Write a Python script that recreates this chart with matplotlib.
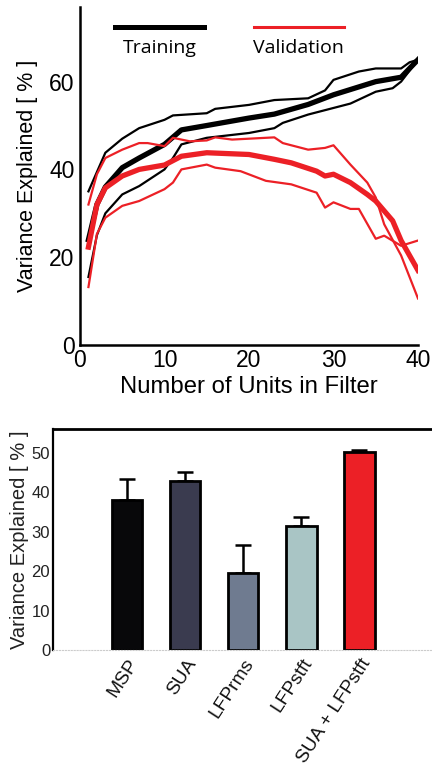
import matplotlib
matplotlib.use("Agg")
import matplotlib.pyplot as plt

# ---------------- data: top panel ----------------
train_mean_x = [1, 2, 3, 5, 7, 10, 12, 15, 20, 23, 27, 30, 35, 38, 40]
train_mean_y = [24, 32, 36, 40.4, 42.6, 45.7, 49, 50, 51.7, 52.6, 54.8, 57, 60, 61, 65]

train_hi_x = [1, 3, 5, 7, 10, 11, 15, 16, 20, 23, 27, 29, 30, 33, 35, 38, 39, 40]
train_hi_y = [35, 43.8, 47, 49.4, 51.3, 52.3, 52.8, 53.8, 54.7, 55.8, 56.2, 58, 60.4, 62.3, 63, 63, 64.4, 65]

train_lo_x = [1, 2, 3, 5, 7, 10, 11, 12, 15, 20, 23, 24, 27, 30, 32, 35, 37, 38, 40]
train_lo_y = [15.5, 25, 30, 34.3, 36.2, 40, 42.6, 45.7, 47.2, 48.3, 49.4, 50.6, 52.5, 54, 55, 57.7, 58.5, 60, 65]

val_mean_x = [1, 2, 3, 5, 7, 10, 12, 15, 20, 23, 25, 28, 29, 30, 32, 34, 35, 37, 38, 40]
val_mean_y = [22.3, 32, 35.8, 38.5, 40, 41, 43, 43.8, 43.4, 42.3, 41.5, 39.6, 38.5, 38.9, 37, 34.3, 32.8, 28.3, 23.8, 17]

val_hi_x = [1, 2, 3, 5, 7, 8, 10, 11, 13, 15, 16, 18, 23, 24, 27, 29, 30, 32, 34, 35, 36, 38, 39, 40]
val_hi_y = [32, 38.9, 42.6, 44.5, 46, 46, 45.3, 47.2, 46.4, 46.6, 47.3, 46.8, 47.3, 46, 44.5, 44.9, 45.5, 41.1, 37, 33.6, 27.5, 20.4, 15.5, 10.6]

val_lo_x = [1, 2, 3, 5, 7, 10, 11, 12, 15, 16, 19, 22, 25, 28, 29, 30, 32, 33, 35, 36, 38, 40]
val_lo_y = [13.2, 25.3, 29, 31.7, 32.8, 35.5, 37, 40, 41.1, 40.4, 39.6, 37.4, 36.6, 34.7, 31.3, 32.5, 31, 31, 24.2, 24.9, 22.6, 23.8]

top_xticks = [0, 10, 20, 30, 40]
top_yticks = [0, 20, 40, 60]
legend_labels = ["Training", "Validation"]

# ---------------- data: bottom panel ----------------
bar_labels = ["MSP", "SUA", "LFPrms", "LFPstft", "SUA + LFPstft"]
bar_values = [38, 42.9, 19.5, 31.4, 50.1]
bar_err = [5.3, 2.2, 7.0, 2.3, 0.7]
bar_colors = ["#08080a", "#3a3b4f", "#6f7b90", "#a9c5c5", "#ec2026"]
bot_yticks = [0, 10, 20, 30, 40, 50]

RED = "#ec2026"

fig = plt.figure(figsize=(4.32, 7.66), dpi=100)

# ---------------- top axes ----------------
ax = fig.add_axes([80 / 432, 1 - 345 / 766, 338 / 432, 338 / 766])
ax.plot(train_hi_x, train_hi_y, color="black", lw=1.6)
ax.plot(train_lo_x, train_lo_y, color="black", lw=1.6)
ax.plot(train_mean_x, train_mean_y, color="black", lw=3.8)
ax.plot(val_hi_x, val_hi_y, color=RED, lw=1.6)
ax.plot(val_lo_x, val_lo_y, color=RED, lw=1.6)
ax.plot(val_mean_x, val_mean_y, color=RED, lw=3.8)
ax.set_xlim(0, 40)
ax.set_ylim(0, 77)
ax.set_xticks(top_xticks)
ax.set_yticks(top_yticks)
ax.tick_params(axis="x", length=0, labelsize=16.5, pad=3)
ax.tick_params(axis="y", length=0, labelsize=16.5, pad=4)
for lab in ax.get_xticklabels() + ax.get_yticklabels():
    lab.set_family("Liberation Sans")
ax.spines["top"].set_visible(False)
ax.spines["right"].set_visible(False)
ax.spines["left"].set_linewidth(1.8)
ax.spines["bottom"].set_linewidth(1.8)
ax.set_xlabel("Number of Units in Filter", family="Liberation Sans", fontsize=17.2, labelpad=3)
ax.set_ylabel("Variance Explained [ % ]", family="Liberation Sans", fontsize=15.5, labelpad=8)

# hand-drawn style legend
ax.plot([0.104, 0.367], [0.94, 0.94], transform=ax.transAxes, color="black", lw=3.6, clip_on=False)
ax.plot([0.515, 0.78], [0.94, 0.94], transform=ax.transAxes, color=RED, lw=2.2, clip_on=False)
ax.text(0.236, 0.88, legend_labels[0], transform=ax.transAxes, ha="center", va="center",
        fontsize=14, family="Open Sans", color="black")
ax.text(0.647, 0.88, legend_labels[1], transform=ax.transAxes, ha="center", va="center",
        fontsize=14, family="Open Sans", color="black")

# ---------------- bottom axes ----------------
bx = fig.add_axes([53 / 432, 1 - 650 / 766, 1 - 53 / 432, 221 / 766])
pos = list(range(len(bar_labels)))
bx.bar(pos, bar_values, width=0.52, color=bar_colors, edgecolor="black", linewidth=2.0, zorder=2)
bx.errorbar(pos, bar_values, yerr=[[0] * len(bar_err), bar_err], fmt="none", ecolor="black",
            elinewidth=1.8, capsize=6, capthick=1.8, zorder=1)
bx.set_xlim(-1.28, 5.25)
bx.set_ylim(0, 56)
bx.set_yticks(bot_yticks)
bx.set_xticks(pos)
bx.set_xticklabels(bar_labels, rotation=57, ha="right", rotation_mode="anchor",
                   family="Liberation Sans", fontsize=13.8)
bx.tick_params(axis="x", length=0, labelsize=13.8, pad=4, colors="#111111")
bx.tick_params(axis="y", length=0, labelsize=12, pad=2, colors="#222222")
for lab in bx.get_yticklabels():
    lab.set_family("Liberation Sans")
bx.spines["right"].set_visible(False)
bx.spines["top"].set_linewidth(2)
bx.spines["left"].set_linewidth(1.6)
bx.spines["bottom"].set_color("#cccccc")
bx.spines["bottom"].set_linewidth(0.8)
bx.spines["bottom"].set_linestyle(":")
bx.set_ylabel("Variance Explained [ % ]", family="Liberation Sans", fontsize=14.5, labelpad=2, color="#222222")

fig.savefig("out.png", dpi=100)
